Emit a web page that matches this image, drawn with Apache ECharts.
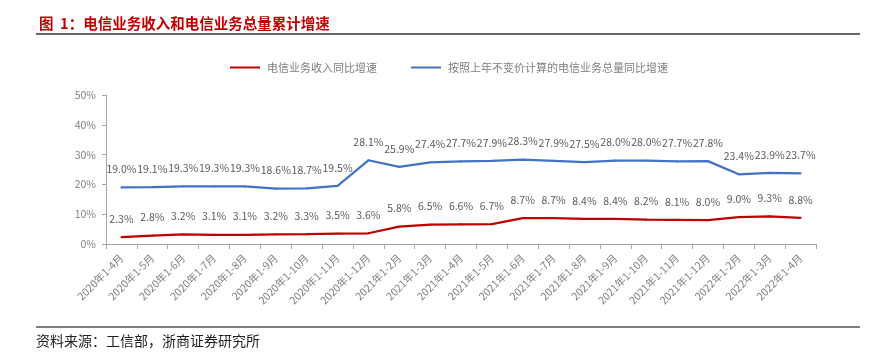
<!DOCTYPE html>
<html>
<head>
<meta charset="utf-8">
<script src="https://cdn.jsdelivr.net/npm/echarts@6/dist/echarts.min.js"></script>
<style>
  html, body { margin: 0; padding: 0; background: #fff; }
  #chart { width: 874px; height: 364px; }
</style>
</head>
<body>
<div id="chart"></div>
<script>
document.addEventListener('DOMContentLoaded', () => {
  const months = [
    '2020年1-4月', '2020年1-5月', '2020年1-6月', '2020年1-7月', '2020年1-8月',
    '2020年1-9月', '2020年1-10月', '2020年1-11月', '2020年1-12月',
    '2021年1-2月', '2021年1-3月', '2021年1-4月', '2021年1-5月', '2021年1-6月',
    '2021年1-7月', '2021年1-8月', '2021年1-9月', '2021年1-10月', '2021年1-11月',
    '2021年1-12月', '2022年1-2月', '2022年1-3月', '2022年1-4月'
  ];

  // 电信业务收入同比增速 (%)
  const revenueGrowth = [
    2.3, 2.8, 3.2, 3.1, 3.1, 3.2, 3.3, 3.5, 3.6,
    5.8, 6.5, 6.6, 6.7, 8.7, 8.7, 8.4, 8.4, 8.2, 8.1, 8.0,
    9.0, 9.3, 8.8
  ];

  // 按照上年不变价计算的电信业务总量同比增速 (%)
  const volumeGrowth = [
    19.0, 19.1, 19.3, 19.3, 19.3, 18.6, 18.7, 19.5, 28.1,
    25.9, 27.4, 27.7, 27.9, 28.3, 27.9, 27.5, 28.0, 28.0, 27.7, 27.8,
    23.4, 23.9, 23.7
  ];

  const font = '"Noto Sans CJK SC", "Noto Sans", sans-serif';
  const labelStyle = {
    show: true,
    position: 'top',
    distance: 12,
    color: '#595959',
    fontSize: 10.5,
    fontFamily: font,
    formatter: p => p.value.toFixed(1) + '%'
  };

  const chart = echarts.init(document.getElementById('chart'));
  chart.setOption({
    animation: false,
    title: {
      text: '图  1：电信业务收入和电信业务总量累计增速',
      left: 34,
      top: 11,
      textStyle: { color: '#C00000', fontSize: 14.5, fontWeight: 'bold', fontFamily: font }
    },
    graphic: [
      { type: 'line', shape: { x1: 36, y1: 34, x2: 860, y2: 34 }, style: { stroke: '#333', lineWidth: 1.5 } },
      { type: 'line', shape: { x1: 36, y1: 327, x2: 860, y2: 327 }, style: { stroke: '#555', lineWidth: 1.5 } },
      {
        type: 'text', left: 36, top: 334,
        style: { text: '资料来源：工信部，浙商证券研究所', fill: '#222', fontSize: 14, fontFamily: font }
      }
    ],
    legend: {
      top: 57,
      left: 225,
      itemWidth: 30,
      itemHeight: 2,
      itemGap: 34,
      icon: 'rect',
      textStyle: { color: '#7f7f7f', fontSize: 11, fontFamily: font, padding: [0, 0, 0, 2] }
    },
    grid: { left: 106, right: 58, top: 95, bottom: 120 },
    xAxis: {
      type: 'category',
      data: months,
      boundaryGap: true,
      axisLine: { lineStyle: { color: '#a6a6a6' } },
      axisTick: { show: true, length: 5, lineStyle: { color: '#a6a6a6' } },
      axisLabel: { rotate: 45, color: '#7f7f7f', fontSize: 10.5, fontFamily: font, interval: 0, margin: 12 }
    },
    yAxis: {
      type: 'value',
      min: 0,
      max: 50,
      interval: 10,
      splitLine: { show: false },
      axisLine: { show: true, lineStyle: { color: '#a6a6a6' } },
      axisTick: { show: true, length: 4, lineStyle: { color: '#a6a6a6' } },
      axisLabel: { color: '#7f7f7f', fontSize: 10.5, fontFamily: font, formatter: '{value}%', margin: 10 }
    },
    series: [
      {
        name: '电信业务收入同比增速',
        type: 'line',
        data: revenueGrowth,
        symbol: 'circle',
        symbolSize: 2,
        showSymbol: true,
        itemStyle: { color: '#C00000' },
        lineStyle: { width: 2.25, color: '#C00000' },
        label: labelStyle,
        labelLayout: { hideOverlap: false }
      },
      {
        name: '按照上年不变价计算的电信业务总量同比增速',
        type: 'line',
        data: volumeGrowth,
        symbol: 'circle',
        symbolSize: 2,
        showSymbol: true,
        itemStyle: { color: '#4472C4' },
        lineStyle: { width: 2.25, color: '#4472C4' },
        label: labelStyle,
        labelLayout: { hideOverlap: false }
      }
    ]
  });
});
</script>
</body>
</html>
